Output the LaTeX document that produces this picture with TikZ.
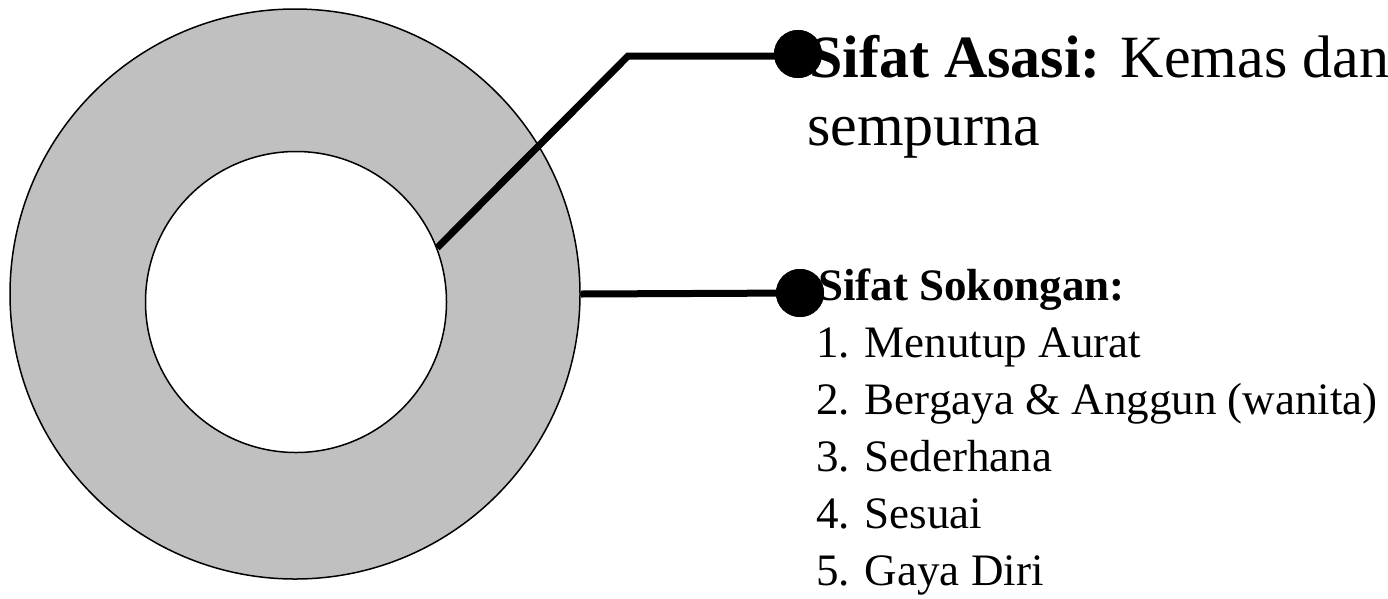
\documentclass[tikz,border=0pt]{standalone}
\usepackage{fontspec}
\setmainfont{Liberation Serif}
\definecolor{ringgray}{RGB}{192,192,192}
\begin{document}
\begin{tikzpicture}[x=1pt,y=-1pt,
  ring/.style={circle,draw=black,line width=1.5pt,inner sep=0pt},
  connector/.style={line width=7pt,line join=miter},
  dotend/.style={circle,fill=black,inner sep=0pt,minimum size=48pt},
  bigtext/.style={anchor=base west,inner sep=0pt,font=\fontsize{60}{68}\selectfont},
  smalltext/.style={anchor=base west,inner sep=0pt,font=\fontsize{45}{57}\selectfont}]
\useasboundingbox (0,0) rectangle (1388,598);
\node[ring,fill=ringgray,minimum size=570pt] (outer) at (295,294) {};
\node[ring,fill=white,minimum size=301pt] (inner) at (296,302) {};
\node[dotend] (d1) at (798,54) {};
\node[dotend] (d2) at (800,293) {};
\coordinate (bend) at (628,56);
\draw[connector] (inner.21) -- (bend) -- (d1.center |- bend);
\draw[connector] (outer.east) -- (d2.center);
\node[dotend] at (d1) {};
\node[dotend] at (d2) {};
\node[bigtext] (t1) at (809,77) {\textbf{Sifat Asasi:} Kemas dan};
\node[bigtext] (t2) at (807,145) {sempurna};
\node[smalltext] (s0) at (818,300) {\textbf{Sifat Sokongan:}};
\node[smalltext] (s1) at (816,357) {1. Menutup Aurat};
\node[smalltext] (s2) at (816,414) {2. Bergaya \& Anggun (wanita)};
\node[smalltext] (s3) at (816,471) {3. Sederhana};
\node[smalltext] (s4) at (816,528) {4. Sesuai};
\node[smalltext] (s5) at (816,585) {5. Gaya Diri};
\end{tikzpicture}
\end{document}
